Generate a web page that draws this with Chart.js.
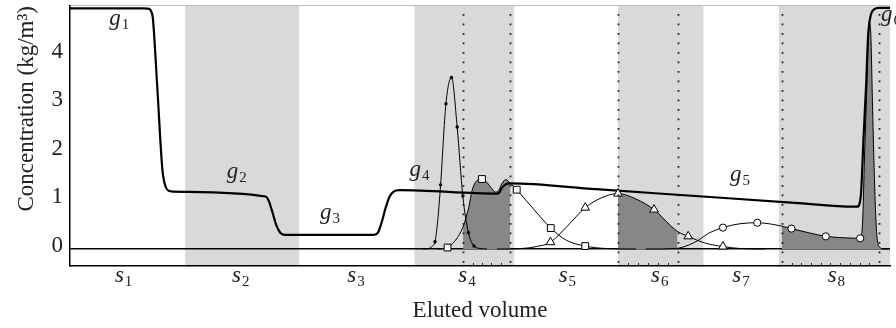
<!DOCTYPE html>
<html>
<head>
<meta charset="utf-8">
<script src="https://cdn.jsdelivr.net/npm/chart.js@4.4.1/dist/chart.umd.min.js"></script>
<style>
  html, body { margin: 0; padding: 0; background: #fff; }
</style>
</head>
<body>
<canvas id="elution" width="896" height="328"></canvas>
<script>
/* ---------- DATA ---------- */
// x: eluted volume (arbitrary units), y: concentration (kg/m3)
const xMax = 82.6;
const yTicks = [0, 1, 2, 3, 4];

// salt gradient g1..g6 (thick line)
const gradientCurve = [
  [0, 4.95], [7.5, 4.95], [8.0, 4.94], [8.2, 4.88], [8.35, 4.74], [8.8, 3.3], [9.3, 1.65],
  [9.6, 1.3], [9.9, 1.2], [10.4, 1.18],
  [19.7, 1.08], [20.0, 1.0], [20.4, 0.75], [20.8, 0.48], [21.2, 0.33], [21.7, 0.29],
  [30.6, 0.29], [31.0, 0.33], [31.4, 0.55], [31.8, 0.85], [32.2, 1.08], [32.6, 1.18], [33.2, 1.21],
  [43.0, 1.14], [43.2, 1.15], [43.5, 1.26], [43.9, 1.33], [44.3, 1.35],
  [53.0, 1.23], [63.0, 1.09], [73.0, 0.95], [79.0, 0.87], [79.3, 0.87],
  [79.65, 1.07], [79.95, 2.36], [80.2, 3.4], [80.4, 4.4], [80.65, 4.8], [81.0, 4.93], [81.5, 4.96], [82.6, 4.96]
];

// component 1 (small dots)
const comp1Curve = [
  [35.5, 0], [36.1, 0.01], [36.5, 0.06], [36.77, 0.15], [37.05, 0.6], [37.33, 1.32], [37.87, 2.99],
  [38.43, 3.53], [39.0, 2.51], [39.57, 1.09], [40.13, 0.34], [40.7, 0.06], [41.3, 0.01], [42.0, 0]
];
const comp1Marks = [[36.77, 0.15], [37.33, 1.32], [37.87, 2.99], [38.43, 3.53], [39.0, 2.51], [39.57, 1.09], [40.13, 0.34], [40.7, 0.06]];

// component 2 (squares)
const comp2Curve = [
  [37.0, 0], [37.7, 0.01], [38.03, 0.03], [38.83, 0.18], [39.6, 0.46], [40.17, 0.86], [40.5, 1.2],
  [40.83, 1.37], [41.5, 1.44], [42.0, 1.37], [42.5, 1.24], [42.83, 1.17], [43.17, 1.2], [43.5, 1.34],
  [43.9, 1.43], [44.33, 1.35], [44.67, 1.29], [45.0, 1.22], [46.7, 0.82], [48.43, 0.43], [50.0, 0.18],
  [51.9, 0.06], [54.0, 0.01], [57.0, 0]
];
const comp2Marks = [[38.03, 0.03], [41.5, 1.44], [45.0, 1.22], [48.43, 0.43], [51.9, 0.06]];

// component 3 (triangles)
const comp3Curve = [
  [43.0, 0], [45.5, 0.01], [47.0, 0.05], [48.4, 0.14], [50.0, 0.45], [51.9, 0.85], [53.5, 1.05],
  [55.2, 1.14], [57.0, 1.03], [58.83, 0.81], [60.5, 0.48], [61.2, 0.36], [62.27, 0.26], [64.0, 0.12],
  [65.77, 0.05], [67.5, 0.01], [70.0, 0]
];
const comp3Marks = [[48.4, 0.14], [51.9, 0.85], [55.2, 1.14], [58.83, 0.81], [62.27, 0.26], [65.77, 0.05]];

// component 4 (circles) and the last sharp peak
const comp4Curve = [
  [58.0, 0], [61.0, 0.01], [62.3, 0.08], [63.3, 0.18], [64.3, 0.32], [65.77, 0.44], [67.5, 0.52],
  [69.23, 0.54], [71.0, 0.5], [71.7, 0.47], [72.67, 0.42], [74.5, 0.33], [76.13, 0.26], [78.0, 0.23],
  [79.6, 0.22], [79.85, 0.6], [80.0, 1.67], [80.27, 3.38], [80.43, 4.47], [80.5, 4.67], [80.67, 4.4],
  [80.83, 3.04], [81.0, 1.67], [81.17, 0.65], [81.33, 0.18], [81.67, 0.02], [82.0, 0], [82.6, 0]
];
const comp4Marks = [[65.77, 0.44], [69.23, 0.54], [72.67, 0.42], [76.13, 0.26], [79.6, 0.22]];

// collected fractions (dotted lines), and how many tubes each is split into
const cutStart = [39.6, 55.2, 71.7];
const cutEnd = [44.33, 61.2, 81.5];
const cutParts = [5, 6, 10];

// column sections s1..s8
const sectionEdges = [0, 11.6, 23.1, 34.7, 44.75, 55.2, 63.8, 71.4, 83.0];
const sectionLabels = ["1", "2", "3", "4", "5", "6", "7", "8"];
const sectionLabelX = [5.4, 17.2, 28.8, 40.0, 50.1, 59.4, 67.6, 77.2];

// gradient step labels g1..g6
const gradientLabels = ["1", "2", "3", "4", "5", "6"];
const gradientLabelX = [4.95, 16.8, 26.2, 35.2, 67.5, 82.7];
const gradientLabelY = [4.61, 1.46, 0.61, 1.5, 1.40, 4.69];

/* ---------- HELPERS ---------- */
const toXY = pts => pts.map(([x, y]) => ({ x, y }));
const cut = (pts, from, to) => pts.filter(([x]) => x >= from && x <= to);

const SERIF = '"Liberation Serif", "Times New Roman", serif';

function subLabel(ctx, base, sub, cx, baseline) {
  ctx.font = "italic 23px " + SERIF;
  const w1 = ctx.measureText(base).width;
  ctx.font = "15px " + SERIF;
  const w2 = ctx.measureText(sub).width;
  const left = cx - (w1 + w2 + 1) / 2;
  ctx.textAlign = "left";
  ctx.textBaseline = "alphabetic";
  ctx.font = "italic 23px " + SERIF;
  ctx.fillText(base, left, baseline);
  ctx.font = "15px " + SERIF;
  ctx.fillText(sub, left + w1 + 1, baseline + 4);
}

/* ---------- DECORATION PLUGIN ---------- */
const decor = {
  id: "decor",
  beforeDraw(chart) {
    const { ctx, chartArea: a, scales: { x } } = chart;
    ctx.save();
    ctx.beginPath();
    ctx.rect(a.left, a.top, a.right - a.left, a.bottom - a.top);
    ctx.clip();
    ctx.fillStyle = "#d9d9d9";
    for (let i = 1; i < sectionEdges.length - 1; i += 2) {
      const x0 = x.getPixelForValue(sectionEdges[i]);
      const x1 = x.getPixelForValue(sectionEdges[i + 1]);
      ctx.fillRect(x0, a.top, x1 - x0, a.bottom - a.top);
    }
    ctx.restore();

    // thin grey frame at the top
    ctx.save();
    ctx.strokeStyle = "#bdbdbd";
    ctx.lineWidth = 1;
    ctx.beginPath();
    ctx.moveTo(a.left, a.top - 0.5);
    ctx.lineTo(a.right, a.top - 0.5);
    ctx.stroke();
    ctx.restore();
  },
  afterDatasetsDraw(chart) {
    const { ctx, chartArea: a, scales: { x, y } } = chart;
    ctx.save();

    // dotted cut lines
    ctx.strokeStyle = "#222";
    ctx.lineWidth = 1.8;
    ctx.setLineDash([1.8, 7.7]);
    [...cutStart, ...cutEnd].forEach(v => {
      const px = Math.round(x.getPixelForValue(v)) + 0.5;
      ctx.beginPath();
      ctx.moveTo(px, a.top + 8);
      ctx.lineTo(px, a.bottom);
      ctx.stroke();
    });
    ctx.setLineDash([]);

    // tube ticks on the volume axis
    ctx.lineWidth = 1;
    cutStart.forEach((s, i) => {
      for (let k = 1; k < cutParts[i]; k++) {
        const px = Math.round(x.getPixelForValue(s + (cutEnd[i] - s) * k / cutParts[i])) + 0.5;
        ctx.beginPath();
        ctx.moveTo(px, a.bottom);
        ctx.lineTo(px, a.bottom - 3);
        ctx.stroke();
      }
    });

    // labels
    ctx.fillStyle = "#222";
    gradientLabels.forEach((n, i) => {
      subLabel(ctx, "g", n, x.getPixelForValue(gradientLabelX[i]), y.getPixelForValue(gradientLabelY[i]));
    });
    sectionLabels.forEach((n, i) => {
      subLabel(ctx, "s", n, x.getPixelForValue(sectionLabelX[i]), a.bottom + 16);
    });
    ctx.restore();
  }
};

/* ---------- DATASETS ---------- */
const curve = (data, width, order) => ({
  data: toXY(data),
  borderColor: "#000",
  borderWidth: width,
  pointRadius: 0,
  cubicInterpolationMode: "monotone",
  fill: false,
  order
});

const fillArea = data => ({
  data: toXY(data),
  borderWidth: 0,
  pointRadius: 0,
  cubicInterpolationMode: "monotone",
  backgroundColor: "#878787",
  fill: "origin",
  order: 4
});

const marks = (data, style, radius, bg) => ({
  data: toXY(data),
  showLine: false,
  pointStyle: style,
  pointRadius: radius,
  pointBackgroundColor: bg,
  pointBorderColor: "#000",
  pointBorderWidth: bg === "#000" ? 0 : 1,
  order: 1
});

new Chart(document.getElementById("elution"), {
  type: "line",
  data: {
    datasets: [
      fillArea(cut(comp2Curve, cutStart[0], cutEnd[0])),
      fillArea(cut(comp3Curve, cutStart[1], cutEnd[1])),
      fillArea(cut(comp4Curve, cutStart[2], xMax)),
      curve(comp1Curve, 1, 3),
      curve(comp2Curve, 1, 3),
      curve(comp3Curve, 1, 3),
      curve(comp4Curve, 1, 3),
      curve(gradientCurve, 2.2, 2),
      marks(comp1Marks, "circle", 1.7, "#000"),
      marks(comp2Marks, "rect", 4.8, "#fff"),
      marks(comp3Marks, "triangle", 5, "#fff"),
      marks(comp4Marks, "circle", 3.6, "#fff")
    ]
  },
  options: {
    responsive: false,
    animation: false,
    devicePixelRatio: 1,
    layout: { padding: { top: 4, right: 0, bottom: 0, left: 0 } },
    plugins: { legend: { display: false }, tooltip: { enabled: false } },
    scales: {
      x: {
        type: "linear",
        min: 0,
        max: xMax,
        grid: { display: false },
        ticks: { display: false },
        border: { display: true, color: "#000", width: 1.5 },
        title: {
          display: true,
          text: "Eluted volume",
          color: "#222",
          font: { family: SERIF, size: 23 },
          padding: { top: 0, bottom: 3 }
        },
        afterFit: s => {
          s.height = 62;
          s.paddingLeft = 0;
          s.paddingRight = 0;
        }
      },
      y: {
        type: "linear",
        min: -0.35,
        max: 5.0,
        afterBuildTicks: s => { s.ticks = yTicks.map(v => ({ value: v })); },
        ticks: {
          color: "#222",
          font: { family: SERIF, size: 23 },
          padding: 7,
          labelOffset: -3
        },
        grid: {
          drawTicks: false,
          lineWidth: 1.5,
          color: c => (c.tick && c.tick.value === 0 ? "#000" : "rgba(0,0,0,0)")
        },
        border: { display: true, color: "#000", width: 1.5 },
        title: {
          display: true,
          text: "Concentration (kg/m³)",
          color: "#222",
          align: "end",
          font: { family: SERIF, size: 23 },
          padding: { top: 13, bottom: 0 }
        },
        afterFit: s => {
          s.width = 70;
          s.paddingTop = 0;
          s.paddingBottom = 0;
        }
      }
    }
  },
  plugins: [decor]
});
</script>
</body>
</html>
